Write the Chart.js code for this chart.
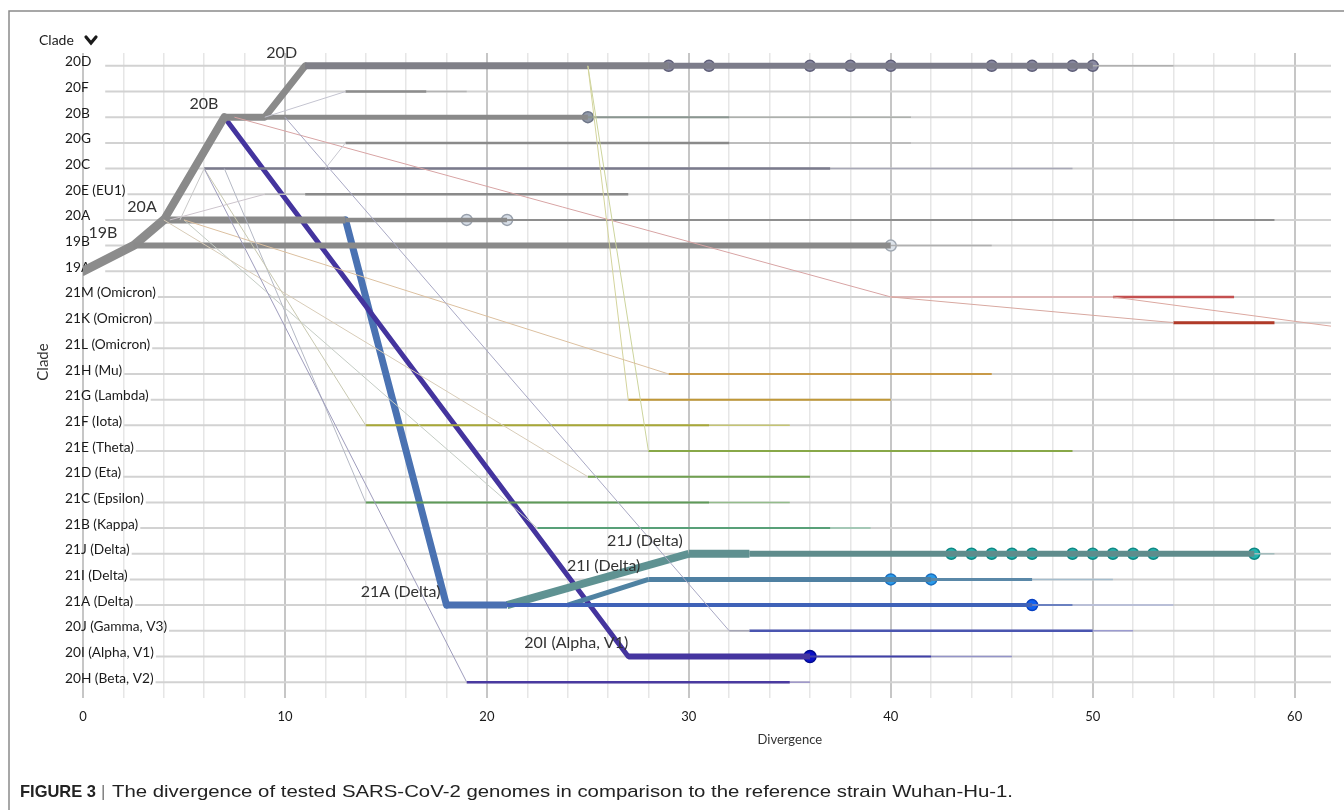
<!DOCTYPE html>
<html>
<head>
<meta charset="utf-8">
<script src="https://cdn.jsdelivr.net/npm/chart.js@4.4.1/dist/chart.umd.min.js"></script>
<style>
  html, body { margin: 0; padding: 0; background: #ffffff; }
  #wrap { position: relative; width: 1344px; height: 810px; }
  canvas { display: block; }
</style>
</head>
<body>
<div id="wrap"><canvas id="c" width="1344" height="810"></canvas></div>
<script>
// ---------------- DATA ----------------
const clades = ['20D','20F','20B','20G','20C','20E (EU1)','20A','19B','19A',
  '21M (Omicron)','21K (Omicron)','21L (Omicron)','21H (Mu)','21G (Lambda)','21F (Iota)',
  '21E (Theta)','21D (Eta)','21C (Epsilon)','21B (Kappa)','21J (Delta)','21I (Delta)',
  '21A (Delta)','20J (Gamma, V3)','20I (Alpha, V1)','20H (Beta, V2)'];

const xTickLabels = [0, 10, 20, 30, 40, 50, 60];
const xGridStep = 2;
const xMax = 61.8;

// thin connecting links [divergence, clade]
const link20F = [[9,'20B'],[13,'20F']];
const link20G = [[12,'20C'],[13,'20G']];
const link20C = [[4.8,'20A'],[6,'20C']];
const link20E = [[4.3,'20A'],[9,'20E (EU1)']];
const link20H = [[6,'20C'],[19,'20H (Beta, V2)']];
const link20J = [[10,'20B'],[32,'20J (Gamma, V3)']];
const link21F = [[6,'20C'],[14,'21F (Iota)']];
const link21C = [[7,'20C'],[14,'21C (Epsilon)']];
const link21D = [[4,'20A'],[25,'21D (Eta)']];
const link21H = [[5,'20A'],[29,'21H (Mu)']];
const link21G = [[25,'20D'],[27,'21G (Lambda)']];
const link21E = [[25,'20D'],[28,'21E (Theta)']];
const link21B = [[5,'20A'],[22.5,'21B (Kappa)']];
const link21M = [[7.5,'20B'],[40,'21M (Omicron)']];
const link21K = [[40,'21M (Omicron)'],[54,'21K (Omicron)']];
const link21L = [[51,'21M (Omicron)'],[70,'21L (Omicron)']];

// thick trunk and branch paths
const trunkRoot = [[0,'19A'],[2.5,'19B'],[4,'20A']];
const trunk20B = [[4,'20A'],[7,'20B']];
const trunk20D = [[7,'20B'],[9,'20B'],[11,'20D']];
const branch20I = [[7,'20B'],[27,'20I (Alpha, V1)']];
const branch21A = [[13,'20A'],[18,'21A (Delta)']];
const branch21J = [[21,'21A (Delta)'],[30,'21J (Delta)']];
const branch21I = [[24,'21A (Delta)'],[28,'21I (Delta)']];

// horizontal clade lines: divergence breakpoints
const row20D = [11, 29, 50, 54];
const row20F = [13, 17, 19];
const row20B = [9, 25, 32, 41];
const row20G = [13, 32, 41];
const row20C = [6, 37, 49];
const row20E = [9, 11, 27];
const row20A = [4, 13, 21, 59];
const row19B = [2.5, 40, 45];
const row21M = [40, 51, 57];
const row21K = [54, 59];
const row21H = [29, 45];
const row21G = [27, 40];
const row21F = [14, 31, 35];
const row21E = [28, 49];
const row21D = [25, 36];
const row21C = [14, 31, 35];
const row21B = [22.5, 37, 39];
const row21J = [30, 33, 58, 59];
const row21I = [28, 42, 47, 51];
const row21A = [18, 21, 47, 49, 54];
const row20J = [32, 33, 50, 52];
const row20I = [27, 36, 42, 46];
const row20H = [19, 35, 36];

// sampled genomes (circles)
const tips20D = [29, 31, 36, 38, 40, 45, 47, 49, 50];
const tips20B = [25];
const tips20A = [19, 21];
const tips19B = [40];
const tips21J = [43, 44, 45, 46, 47, 49, 50, 51, 52, 53, 58];
const tips21I = [40, 42];
const tips21A = [47];
const tips20I = [36];

// branch labels: text, right-edge divergence, clade row
const nodeLabels = [['20D',10.6,'20D'],['20B',6.7,'20B'],['20A',3.65,'20A'],['19B',1.7,'19B'],
  ['21J (Delta)',29.7,'21J (Delta)'],['21I (Delta)',27.6,'21I (Delta)'],
  ['21A (Delta)',17.7,'21A (Delta)'],['20I (Alpha, V1)',27,'20I (Alpha, V1)']];

// ---------------- BUILD ----------------
const yOf = c => (typeof c === 'number' ? c : clades.indexOf(c));
function pathDs(pts, color, width, cap) {
  return { data: pts.map(p => ({ x: p[0], y: yOf(p[1]) })), borderColor: color,
    borderWidth: width, pointRadius: 0, fill: false, tension: 0,
    borderCapStyle: cap || 'butt', borderJoinStyle: 'round' };
}
function rowDs(clade, breaks, widths, colors) {
  const out = [];
  for (let i = 0; i < breaks.length - 1; i++) {
    out.push(pathDs([[breaks[i], clade], [breaks[i + 1], clade]], colors[i], widths[i], 'butt'));
  }
  return out;
}
function tipDs(clade, xs, fill, stroke, r) {
  return { data: xs.map(v => ({ x: v, y: yOf(clade) })), showLine: false,
    pointRadius: r || 5.5, pointBackgroundColor: fill, pointBorderColor: stroke,
    pointBorderWidth: 1.5, borderColor: stroke };
}

const datasets = [
  pathDs(link20F, '#c4c4d0', 1),
  pathDs(link20G, '#c8c8d0', 1),
  pathDs(link20C, '#c8c8c8', 1),
  pathDs(link20E, '#ccc4cc', 1),
  pathDs(link20H, '#9e9cbc', 1),
  pathDs(link20J, '#a8a8c4', 1),
  pathDs(link21F, '#c8c8b0', 1),
  pathDs(link21C, '#b4b8c4', 1),
  pathDs(link21D, '#d8ccb8', 1),
  pathDs(link21H, '#dcc0a0', 1),
  pathDs(link21G, '#d4d49c', 1),
  pathDs(link21E, '#ccd49c', 1),
  pathDs(link21B, '#c4ccc4', 1),
  pathDs(link21M, '#d8a4a4', 1),
  pathDs(link21K, '#d8a8a0', 1),
  pathDs(link21L, '#dca8a0', 1),

  ...rowDs('20D', row20D, [7, 6, 1.5], ['#808088', '#7c7c8a', '#b0b0b0']),
  ...rowDs('20F', row20F, [2.5, 1.5], ['#8c8c8c', '#b4b4b4']),
  ...rowDs('20B', row20B, [5, 2, 1.5], ['#8a8a8a', '#8a9690', '#acb0ac']),
  ...rowDs('20G', row20G, [2.5, 1.5], ['#8a8a8a', '#b4b4b4']),
  ...rowDs('20C', row20C, [2.5, 1.5], ['#7a7a8c', '#a8a8b6']),
  ...rowDs('20E (EU1)', row20E, [1.5, 2.5], ['#bcbcbc', '#8a8a8a']),
  ...rowDs('20A', row20A, [7, 4.5, 2], ['#8a8a8a', '#8a8a8a', '#8e8e8e']),
  ...rowDs('19B', row19B, [6, 1.5], ['#8a8a8a', '#b0b0b0']),
  ...rowDs('21M (Omicron)', row21M, [1.5, 2.5], ['#e0b0b0', '#c45050']),
  ...rowDs('21K (Omicron)', row21K, [3], ['#b03a28']),
  ...rowDs('21H (Mu)', row21H, [2], ['#c89a48']),
  ...rowDs('21G (Lambda)', row21G, [2], ['#c09838']),
  ...rowDs('21F (Iota)', row21F, [2, 1.5], ['#a8a838', '#c4c474']),
  ...rowDs('21E (Theta)', row21E, [2], ['#88a848']),
  ...rowDs('21D (Eta)', row21D, [2], ['#70a050']),
  ...rowDs('21C (Epsilon)', row21C, [2, 1.5], ['#5e9a58', '#94bc8c']),
  ...rowDs('21B (Kappa)', row21B, [2, 1.5], ['#58a078', '#94c4ac']),
  ...rowDs('21J (Delta)', row21J, [8, 6, 1.5], ['#5f9090', '#5f8c8c', '#a4bcbc']),
  ...rowDs('21I (Delta)', row21I, [5, 3, 1.5], ['#4f80a2', '#5a88a8', '#a4bccc']),
  ...rowDs('21A (Delta)', row21A, [7, 4, 2, 1.5], ['#4a70b2', '#3f62b8', '#6a80c0', '#b0b8d8']),
  ...rowDs('20J (Gamma, V3)', row20J, [1.5, 2.5, 1.5], ['#a4a4b4', '#4a55b0', '#9c9cd0']),
  ...rowDs('20I (Alpha, V1)', row20I, [6, 2, 1.5], ['#4535a0', '#4040a8', '#9494c8']),
  ...rowDs('20H (Beta, V2)', row20H, [2.5, 1.5], ['#4a3aa0', '#9c94c8']),

  pathDs(trunkRoot, '#8c8c8c', 9, 'round'),
  pathDs(trunk20B, '#8a8a8a', 8, 'round'),
  pathDs(trunk20D, '#8a8a8a', 7, 'round'),
  pathDs(branch21J, '#5f9292', 8, 'butt'),
  pathDs(branch21I, '#4f82a2', 5, 'butt'),
  pathDs(branch20I, '#44349e', 5, 'round'),
  pathDs(branch21A, '#4a72b2', 7, 'round'),

  tipDs('20D', tips20D, '#8a8aa2', '#5e5e78'),
  tipDs('20B', tips20B, '#9098a8', '#6e7688'),
  tipDs('20A', tips20A, '#d6dde6', '#98a0ac'),
  tipDs('19B', tips19B, '#dde3ea', '#a0a8b2'),
  tipDs('21J (Delta)', tips21J, '#22b4b0', '#108884'),
  tipDs('21I (Delta)', tips21I, '#2a9ae8', '#1a70c0'),
  tipDs('21A (Delta)', tips21A, '#1060f0', '#0840c0'),
  tipDs('20I (Alpha, V1)', tips20I, '#0a10c8', '#000a90', 6)
];

// ---------------- DRAW HELPERS ----------------
const FONT = "Lato, 'Open Sans', sans-serif";
const overlay = {
  id: 'overlay',
  beforeDatasetsDraw(chart) {
    const { ctx, chartArea, scales: { x, y } } = chart;
    ctx.save();
    ctx.font = '13.7px ' + FONT;
    ctx.textAlign = 'left';
    ctx.textBaseline = 'alphabetic';
    const labelX = chartArea.left - 18;
    clades.forEach((c, i) => {
      const py = y.getPixelForValue(i);
      const w = ctx.measureText(c).width;
      const start = Math.max(x.getPixelForValue(1.1), labelX + w + 2);
      ctx.strokeStyle = '#d2d2d2';
      ctx.lineWidth = 2;
      ctx.beginPath();
      ctx.moveTo(start, py);
      ctx.lineTo(chartArea.right, py);
      ctx.stroke();
      ctx.fillStyle = '#1a1a1a';
      ctx.fillText(c, labelX, py + 0.5);
    });
    ctx.restore();
  },
  afterDatasetsDraw(chart) {
    const { ctx, scales: { x, y } } = chart;
    ctx.save();
    ctx.font = '16px ' + FONT;
    ctx.fillStyle = '#333';
    ctx.textAlign = 'right';
    ctx.textBaseline = 'alphabetic';
    nodeLabels.forEach(([t, xv, c]) => {
      ctx.fillText(t, x.getPixelForValue(xv), y.getPixelForValue(yOf(c)) - 8);
    });
    ctx.restore();
  },
  afterDraw(chart) {
    const { ctx, scales: { x } } = chart;
    ctx.save();
    // frame
    ctx.strokeStyle = '#8a8a8a';
    ctx.lineWidth = 1.5;
    ctx.beginPath();
    ctx.moveTo(9, 810);
    ctx.lineTo(9, 11);
    ctx.lineTo(1344, 11);
    ctx.stroke();
    // header "Clade" with chevron
    ctx.fillStyle = '#1a1a1a';
    ctx.font = '14px ' + FONT;
    ctx.textAlign = 'left';
    ctx.textBaseline = 'middle';
    ctx.fillText('Clade', 39, 40);
    ctx.strokeStyle = '#1a1a1a';
    ctx.lineWidth = 3.2;
    ctx.lineCap = 'round';
    ctx.lineJoin = 'miter';
    ctx.beginPath();
    ctx.moveTo(86, 37);
    ctx.lineTo(91, 43);
    ctx.lineTo(96, 37);
    ctx.stroke();
    // vertical axis title
    ctx.save();
    ctx.translate(43, 362);
    ctx.rotate(-Math.PI / 2);
    ctx.font = '15px ' + FONT;
    ctx.fillStyle = '#333';
    ctx.textAlign = 'center';
    ctx.textBaseline = 'middle';
    ctx.fillText('Clade', 0, 0);
    ctx.restore();
    // x title
    ctx.font = '13px ' + FONT;
    ctx.fillStyle = '#333';
    ctx.textAlign = 'center';
    ctx.textBaseline = 'middle';
    ctx.fillText('Divergence', x.getPixelForValue(35), 740);
    // caption
    ctx.textAlign = 'left';
    ctx.textBaseline = 'alphabetic';
    ctx.fillStyle = '#222';
    ctx.font = "bold 17px 'Liberation Sans', Arial, sans-serif";
    const fig = 'FIGURE 3';
    const fw = ctx.measureText(fig).width;
    ctx.save();
    ctx.translate(20, 797);
    ctx.scale(76 / fw, 1);
    ctx.fillText(fig, 0, 0);
    ctx.restore();
    ctx.font = "17px 'Liberation Sans', Arial, sans-serif";
    ctx.fillStyle = '#777';
    ctx.fillText('|', 101, 797);
    ctx.fillStyle = '#222';
    const cap = 'The divergence of tested SARS-CoV-2 genomes in comparison to the reference strain Wuhan-Hu-1.';
    const cw = ctx.measureText(cap).width;
    ctx.save();
    ctx.translate(112, 797);
    ctx.scale((1013 - 112) / cw, 1);
    ctx.fillText(cap, 0, 0);
    ctx.restore();
    ctx.restore();
  }
};

new Chart(document.getElementById('c'), {
  type: 'line',
  data: { datasets },
  options: {
    responsive: false,
    animation: false,
    events: [],
    layout: { padding: { left: 83, top: 53, right: 13, bottom: 85 } },
    plugins: { legend: { display: false }, tooltip: { enabled: false } },
    scales: {
      x: {
        type: 'linear',
        min: 0,
        max: xMax,
        afterBuildTicks: (s) => {
          const t = [];
          for (let v = 0; v <= xTickLabels[xTickLabels.length - 1]; v += xGridStep) t.push({ value: v });
          s.ticks = t;
        },
        afterFit: (s) => { s.height = 30; },
        border: { display: false },
        grid: {
          color: (c) => (c.tick && xTickLabels.includes(c.tick.value) ? '#c6c6c6' : '#e6e6e6'),
          lineWidth: (c) => (c.tick && xTickLabels.includes(c.tick.value) ? 2 : 1.5),
          drawTicks: true,
          tickLength: 3
        },
        ticks: {
          autoSkip: false,
          maxRotation: 0,
          padding: 11,
          color: '#1a1a1a',
          font: { family: FONT, size: 13 },
          callback: (v) => (xTickLabels.includes(v) ? String(v) : '')
        }
      },
      y: {
        type: 'linear',
        display: false,
        reverse: true,
        min: -0.5,
        max: clades.length - 0.5
      }
    }
  },
  plugins: [overlay]
});
</script>
</body>
</html>
